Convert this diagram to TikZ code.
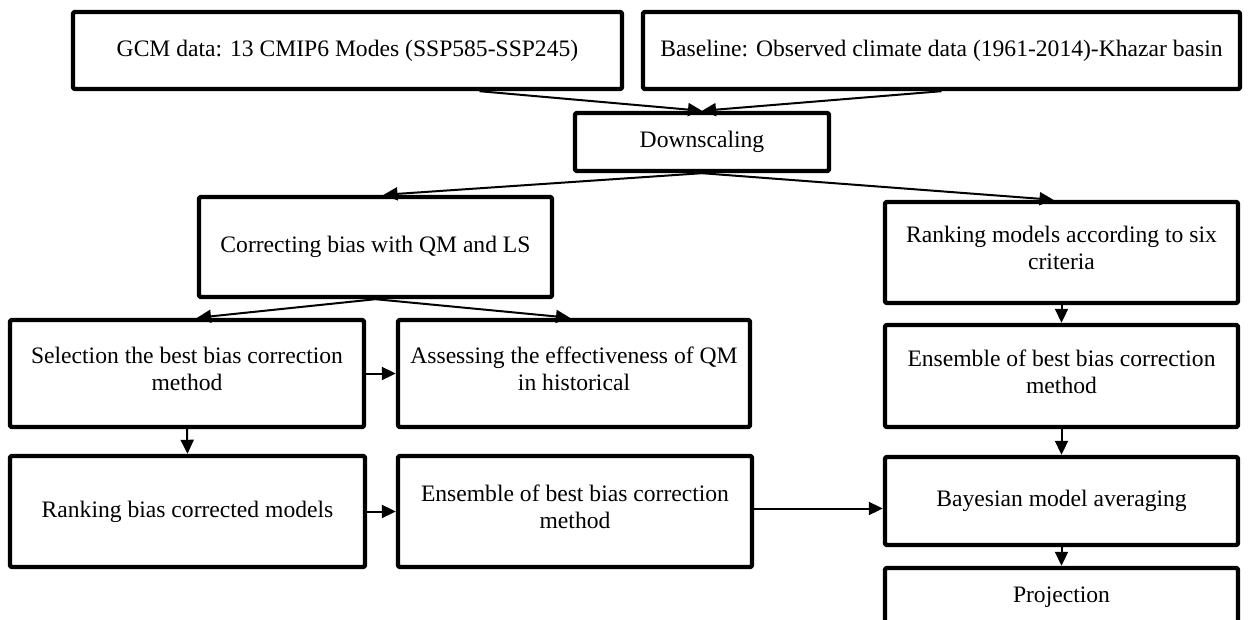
\documentclass[tikz,border=0pt]{standalone}
\usepackage{fontspec}
\setmainfont{Liberation Serif}
\usetikzlibrary{arrows.meta,calc}
\begin{document}
\begin{tikzpicture}[x=0.5pt,y=-0.5pt,
  box/.style={draw=black, line width=2.2pt, rounded corners=1pt, line join=round, inner sep=0pt, align=center,
    font=\fontsize{11.8pt}{13.5pt}\selectfont},
  twoline/.style={text depth=4.5pt},
  arr/.style={line width=1pt, -{Triangle[length=7pt,width=6.5pt]}}]
\clip (0,0) rectangle (1248,620);
\fill[white] (0,0) rectangle (1248,620);
\node[box, minimum width=274.5pt, minimum height=38.5pt] (gcm) at (347.5,50.5) {GCM data: 13 CMIP6 Modes (SSP585-SSP245)};
\node[box, minimum width=298.5pt, minimum height=38.5pt] (base) at (941.5,50.5) {Baseline: Observed climate data (1961-2014)-Khazar basin};
\node[box, minimum width=127pt, minimum height=29pt] (down) at (702,142) {Downscaling};
\node[box, minimum width=176.5pt, minimum height=50pt] (corr) at (375.5,247) {Correcting bias with QM and LS};
\node[box, twoline, minimum width=176.5pt, minimum height=50.5pt] (rank6) at (1061.5,252.5) {Ranking models according to six\\criteria};
\node[box, twoline, minimum width=177pt, minimum height=53.5pt] (sel) at (187,373.5) {Selection the best bias correction\\method};
\node[box, twoline, minimum width=176pt, minimum height=53.5pt] (assess) at (574,373.5) {Assessing the effectiveness of QM\\in historical};
\node[box, twoline, minimum width=176.5pt, minimum height=51pt] (ensR) at (1061.5,376) {Ensemble of best bias correction\\method};
\node[box, minimum width=177.5pt, minimum height=55.5pt] (rankbc) at (187.5,511.5) {Ranking bias corrected models};
\node[box, twoline, minimum width=177pt, minimum height=55.5pt] (ensM) at (575,511.5) {Ensemble of best bias correction\\method};
\node[box, minimum width=176.5pt, minimum height=44pt] (bma) at (1061.5,501) {Bayesian model averaging};
\node[box, minimum width=176.5pt, minimum height=29pt] (proj) at (1061.5,597) {Projection};
% connectors
\draw[arr] ($(gcm.south)+(132,0)$) -- (down.north);
\draw[arr] (base.south) -- (down.north);
\draw[arr] (down.south) -- ($(corr.north)+(8,0)$);
\draw[arr] (down.south) -- ($(rank6.north)+(-8,0)$);
\draw[arr] (corr.south) -- ($(sel.north)+(10,0)$);
\draw[arr] (corr.south) -- ($(assess.north)+(-4,0)$);
\draw[arr] (sel.east) -- (assess.west);
\draw[arr] (sel.south) -- (rankbc.north);
\draw[arr] (rankbc.east) -- (ensM.west);
\coordinate (mout) at ($(ensM.east)+(0,-3)$);
\draw[arr] (mout) -- (mout -| bma.west);
\draw[arr] (rank6.south) -- (ensR.north);
\draw[arr] (ensR.south) -- (bma.north);
\draw[arr] (bma.south) -- (proj.north);
\end{tikzpicture}
\end{document}
